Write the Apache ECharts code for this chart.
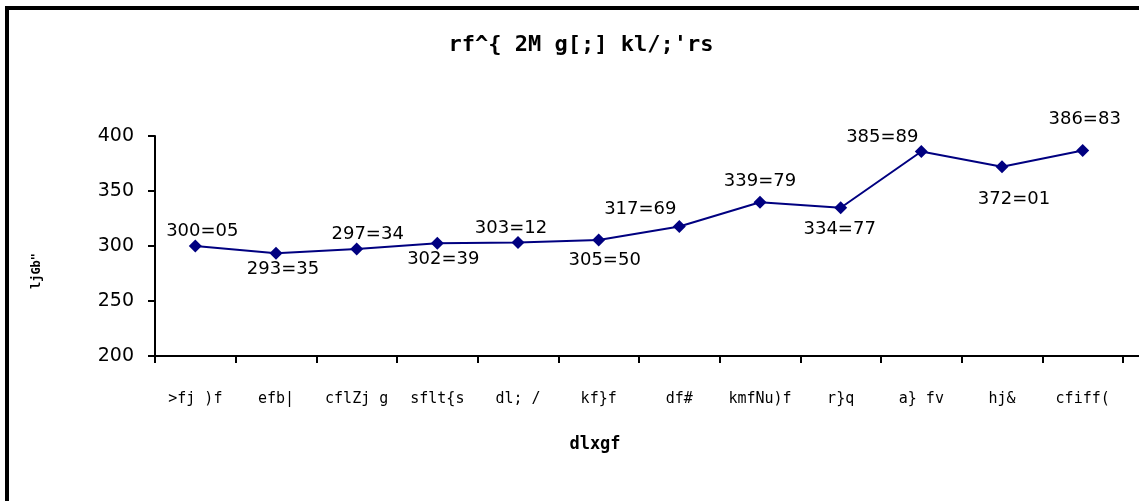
<!DOCTYPE html>
<html><head><meta charset="utf-8">
<script src="https://cdn.jsdelivr.net/npm/echarts@6/dist/echarts.min.js"></script>
<style>html,body{margin:0;padding:0;background:#fff}#c{width:1139px;height:501px}</style>
</head><body><div id="c"></div>
<script>
var categories = ['>fj )f','efb|','cflZj g','sflt{s','dl; /','kf}f','df#','kmfNu)f','r}q','a} fv','hj&','cfiff('];
var values = [300.05,293.35,297.34,302.39,303.12,305.50,317.69,339.79,334.77,385.89,372.01,386.83];
var yTicks = [200,250,300,350,400];
var titleText = "rf^{ 2M g[;] kl/;'rs";
var yName = 'ljGb"';
var xName = 'dlxgf';
// label placement (style only)
var labelPlace = [
  ['top',[7,0]],['bottom',[7,2]],['top',[11,0]],['bottom',[6,1]],['top',[-7,0]],['bottom',[6,6]],
  ['top',[-39,-3]],['top',[0,-6]],['bottom',[-1,7]],['top',[-39,0]],['bottom',[12,18]],['top',[2,-17]]
];
var chart = echarts.init(document.getElementById('c'));
var seriesData = values.map(function(v,i){
  return {value:v, label:{position:labelPlace[i][0], offset:labelPlace[i][1]}};
});
chart.setOption({
  animation:false,
  backgroundColor:'#fff',
  title:{text:titleText,left:576,top:29,textAlign:'center',
    textStyle:{fontFamily:'DejaVu Sans Mono',fontWeight:'bold',fontSize:22,color:'#000'}},
  grid:{left:155,right:16,top:136,bottom:145},
  xAxis:{type:'category',data:categories,boundaryGap:true,
    name:xName,nameLocation:'middle',nameGap:80,
    nameTextStyle:{fontFamily:'DejaVu Sans Mono',fontWeight:'bold',fontSize:17,color:'#000',padding:[0,0,0,-88]},
    axisLine:{lineStyle:{color:'#000',width:2}},
    axisTick:{show:true,interval:0,length:7,lineStyle:{color:'#000',width:2},alignWithLabel:false},
    axisLabel:{interval:0,fontFamily:'DejaVu Sans Mono',fontSize:15,color:'#000',margin:36},
    splitLine:{show:false}},
  yAxis:{type:'value',min:200,max:400,interval:50,
    name:yName,nameLocation:'middle',nameGap:112,nameRotate:90,
    nameTextStyle:{fontFamily:'DejaVu Sans Mono',fontWeight:'bold',fontSize:12,color:'#000',padding:[0,0,0,-50]},
    axisLine:{show:true,lineStyle:{color:'#000',width:2}},
    axisTick:{show:true,length:7,lineStyle:{color:'#000',width:2}},
    axisLabel:{fontFamily:'DejaVu Sans',fontSize:19,color:'#000',margin:21,
      formatter:function(v){return yTicks.indexOf(v)>=0?String(v):'';}},
    splitLine:{show:false}},
  series:[{type:'line',data:seriesData,
    symbol:'diamond',symbolSize:13,
    itemStyle:{color:'#000080'},
    lineStyle:{color:'#000080',width:2},
    label:{show:true,fontFamily:'DejaVu Sans',fontSize:18,color:'#000',distance:-1,
      formatter:function(p){return p.value.toFixed(2).replace('.','=');}}}],
  graphic:[
    {type:'line',shape:{x1:7,y1:8,x2:1139,y2:8},style:{stroke:'#000',lineWidth:4}},
    {type:'line',shape:{x1:7,y1:6,x2:7,y2:501},style:{stroke:'#000',lineWidth:4}},
    {type:'line',shape:{x1:1123,y1:356,x2:1139,y2:356},style:{stroke:'#000',lineWidth:2}}
  ]
});
</script></body></html>
